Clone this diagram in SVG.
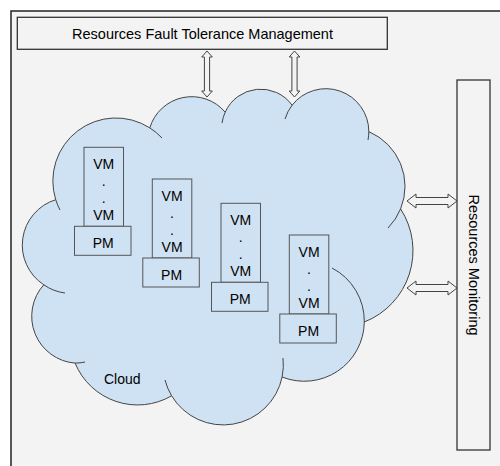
<svg xmlns="http://www.w3.org/2000/svg" width="500" height="466" viewBox="0 0 500 466">
  <style>
    text { font-family: "Liberation Sans", Arial, sans-serif; fill: #000; }
    .t { font-size: 14.5px; }
    .s { font-size: 14px; text-anchor: middle; }
    .box { fill: none; stroke: #333; stroke-width: 1.3; }
    .vm { fill: #cfe2f3; stroke: #555; stroke-width: 1; }
    .arrow { fill: #f3f3f3; stroke: #444; stroke-width: 1; stroke-linejoin: miter; }
    .cloud { fill: #cfe2f3; stroke: #444; stroke-width: 1; }
    .tail { fill: none; stroke: #444; stroke-width: 1; }
  </style>
  <rect x="0" y="0" width="500" height="466" fill="#ffffff"/>
  <g id="frame">
    <rect x="11" y="11" width="500" height="470" fill="#f3f3f3" stroke="#222" stroke-width="1.5"/>
  </g>
  <g id="fault-tolerance">
    <rect class="box" x="17.3" y="17.3" width="370" height="32"/>
    <text class="t" x="202.5" y="39" text-anchor="middle">Resources Fault Tolerance Management</text>
  </g>
  <g id="monitoring">
    <rect class="box" x="457" y="80" width="33" height="370"/>
    <text class="t" transform="translate(469,265) rotate(90)" x="0" y="0" text-anchor="middle">Resources Monitoring</text>
  </g>
  <g id="cloud">
    <path class="cloud" d="M55.7,199.7 A63,63 0 0 1 149.8,127.9 A43.8,43.8 0 0 1 225.2,112.2 A38.8,38.8 0 0 1 292.1,105.2 A42.9,42.9 0 0 1 368.8,131.6 A59.5,59.5 0 0 1 400.6,208.9 A76.6,76.6 0 0 1 364.3,322 A60,60 0 0 1 282.1,377 A60.2,60.2 0 0 1 171.6,395.8 A67.6,67.6 0 0 1 75.1,363.1 A47,47 0 0 1 43.8,284.8 A47.5,47.5 0 0 1 55.7,199.7 Z"/>
    <path class="tail" d="M60,210 A63,63 0 0 1 55.7,199.7 M149.8,127.9 A63,63 0 0 1 162,138 M222,123 A38.8,38.8 0 0 1 225.2,112.2 M285,119 A42.9,42.9 0 0 1 292.1,105.2 M368.8,131.6 A42.9,42.9 0 0 1 368,140 M400.6,208.9 A59.5,59.5 0 0 1 388,228 M332,268 A60,60 0 0 1 364.3,322 M283,358 A60.2,60.2 0 0 1 282.1,377 M171.6,395.8 A60.2,60.2 0 0 1 165,380 M85,362 A47,47 0 0 1 75.1,363.1 M65,293 A47.5,47.5 0 0 1 43.8,284.8"/>
    <text x="104" y="384" font-size="14px">Cloud</text>
  </g>
  <g id="stack1" transform="translate(84,147.3)">
    <rect class="vm" x="0" y="0" width="39.5" height="79"/>
    <rect class="vm" x="-9.5" y="79" width="56.5" height="29"/>
    <text class="s" x="19.75" y="21.8">VM</text>
    <text class="s" x="19.75" y="38.8">.</text>
    <text class="s" x="19.75" y="55.5">.</text>
    <text class="s" x="19.75" y="73">VM</text>
    <text class="s" x="19.25" y="100.8">PM</text>
  </g>
  <g id="stack2" transform="translate(152.3,179)">
    <rect class="vm" x="0" y="0" width="39.5" height="79"/>
    <rect class="vm" x="-9.5" y="79" width="56.5" height="29"/>
    <text class="s" x="19.75" y="21.8">VM</text>
    <text class="s" x="19.75" y="38.8">.</text>
    <text class="s" x="19.75" y="55.5">.</text>
    <text class="s" x="19.75" y="73">VM</text>
    <text class="s" x="19.25" y="100.8">PM</text>
  </g>
  <g id="stack3" transform="translate(221,203.3)">
    <rect class="vm" x="0" y="0" width="39.5" height="79"/>
    <rect class="vm" x="-9.5" y="79" width="56.5" height="29"/>
    <text class="s" x="19.75" y="21.8">VM</text>
    <text class="s" x="19.75" y="38.8">.</text>
    <text class="s" x="19.75" y="55.5">.</text>
    <text class="s" x="19.75" y="73">VM</text>
    <text class="s" x="19.25" y="100.8">PM</text>
  </g>
  <g id="stack4" transform="translate(289.3,235)">
    <rect class="vm" x="0" y="0" width="39.5" height="79"/>
    <rect class="vm" x="-9.5" y="79" width="56.5" height="29"/>
    <text class="s" x="19.75" y="21.8">VM</text>
    <text class="s" x="19.75" y="38.8">.</text>
    <text class="s" x="19.75" y="55.5">.</text>
    <text class="s" x="19.75" y="73">VM</text>
    <text class="s" x="19.25" y="100.8">PM</text>
  </g>
  <g id="connectors">
    <path class="arrow" d="M207,51 L212.3,57 L209.6,57 L209.6,91 L212.3,91 L207,97 L201.7,91 L204.4,91 L204.4,57 L201.7,57 Z"/>
    <path class="arrow" d="M294.5,51 L299.8,57 L297.1,57 L297.1,91 L299.8,91 L294.5,97 L289.2,91 L291.9,91 L291.9,57 L289.2,57 Z"/>
    <path class="arrow" d="M407,201 L416,194 L416,197.5 L448,197.5 L448,194 L457,201 L448,208 L448,204.5 L416,204.5 L416,208 Z"/>
    <path class="arrow" d="M407,288 L416,281 L416,284.5 L448,284.5 L448,281 L457,288 L448,295 L448,291.5 L416,291.5 L416,295 Z"/>
  </g>
</svg>
